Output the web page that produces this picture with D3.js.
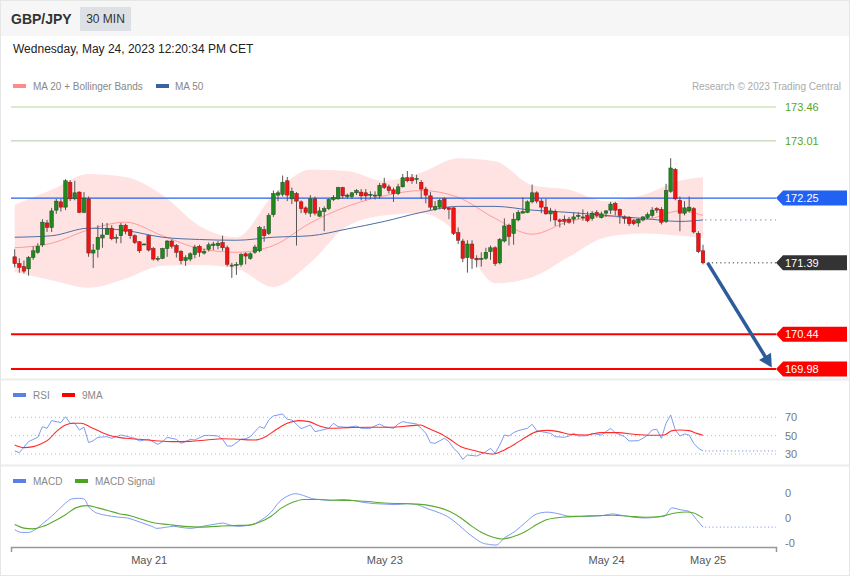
<!DOCTYPE html>
<html><head><meta charset="utf-8">
<script src="https://cdn.jsdelivr.net/npm/d3@7"></script>
<style>body{margin:0;background:#fff}svg{display:block;font-family:"Liberation Sans",Arial,sans-serif}</style>
</head><body><svg id="c" width="850" height="576"></svg>
<script>
// ---- candle data (30 min, GBP/JPY) ----
const open=[171.47,171.38,171.34,171.31,171.46,171.53,171.63,171.92,171.86,172.09,172.20,172.13,172.46,172.24,172.33,172.06,172.24,171.52,171.57,171.72,171.77,171.85,171.72,171.75,171.89,171.83,171.75,171.67,171.64,171.75,171.58,171.44,171.45,171.58,171.68,171.62,171.54,171.42,171.44,171.50,171.61,171.52,171.57,171.62,171.62,171.66,171.59,171.36,171.36,171.37,171.51,171.45,171.53,171.55,171.83,171.78,172.03,172.29,172.30,172.48,172.24,172.31,172.20,172.12,172.05,172.24,172.01,172.07,172.11,172.23,172.24,172.39,172.27,172.27,172.32,172.33,172.32,172.29,172.29,172.28,172.44,172.40,172.36,172.31,172.40,172.52,172.52,172.50,172.46,172.37,172.28,172.10,172.13,172.24,172.12,172.12,171.79,171.68,171.46,171.64,171.45,171.44,171.45,171.54,171.59,171.39,171.68,171.89,171.78,171.96,172.05,172.06,172.20,172.32,172.21,172.13,172.04,172.07,171.96,171.97,171.97,171.97,172.01,171.99,172.02,171.98,172.06,171.99,172.05,172.09,172.18,172.10,172.00,171.99,171.95,171.92,171.96,171.99,172.02,172.11,172.10,171.94,172.34,172.63,172.22,172.05,172.08,172.11,171.78,171.55];
const high=[171.57,171.45,171.42,171.48,171.61,171.65,171.97,171.96,172.12,172.24,172.24,172.50,172.49,172.48,172.34,172.33,172.27,171.64,171.89,171.92,171.92,171.89,171.77,171.92,171.91,171.84,171.77,171.68,171.65,171.76,171.60,171.48,171.59,171.69,171.70,171.64,171.56,171.49,171.53,171.63,171.63,171.58,171.66,171.67,171.68,171.75,171.62,171.39,171.40,171.52,171.53,171.53,171.63,171.88,171.88,172.05,172.35,172.35,172.55,172.53,172.39,172.33,172.22,172.14,172.29,172.27,172.13,172.14,172.25,172.29,172.40,172.40,172.31,172.33,172.37,172.37,172.37,172.34,172.34,172.45,172.52,172.43,172.39,172.44,172.57,172.61,172.57,172.56,172.49,172.40,172.33,172.21,172.24,172.26,172.13,172.13,171.86,171.71,171.69,171.69,171.49,171.53,171.59,171.62,171.61,171.72,171.98,171.91,172.05,172.09,172.26,172.22,172.43,172.34,172.24,172.24,172.12,172.10,171.98,172.02,172.00,172.06,172.06,172.10,172.07,172.08,172.09,172.07,172.09,172.20,172.20,172.11,172.02,172.01,171.97,171.98,172.01,172.06,172.13,172.13,172.13,172.44,172.78,172.65,172.27,172.21,172.27,172.13,171.81,171.63];
const low=[171.33,171.26,171.25,171.22,171.43,171.51,171.60,171.80,171.80,172.04,172.07,172.09,172.21,172.22,172.05,172.05,171.47,171.32,171.46,171.59,171.76,171.69,171.65,171.65,171.77,171.71,171.64,171.52,171.63,171.54,171.42,171.41,171.44,171.47,171.58,171.46,171.37,171.35,171.41,171.45,171.47,171.50,171.54,171.56,171.57,171.55,171.34,171.19,171.23,171.34,171.37,171.43,171.51,171.53,171.67,171.76,172.00,172.21,172.27,172.21,172.17,171.62,172.05,172.03,172.00,172.02,172.00,171.81,172.09,172.21,172.23,172.24,172.24,172.24,172.29,172.22,172.22,172.24,172.23,172.24,172.37,172.31,172.20,172.29,172.39,172.46,172.44,172.44,172.24,172.18,172.09,172.08,172.10,172.09,171.97,171.76,171.64,171.40,171.26,171.31,171.33,171.34,171.43,171.43,171.35,171.37,171.66,171.62,171.63,171.94,172.05,172.05,172.18,172.18,172.05,172.03,171.94,171.88,171.86,171.89,171.91,171.91,171.97,171.95,171.93,171.95,171.99,171.98,172.00,172.04,172.02,171.91,171.91,171.88,171.89,171.87,171.94,171.97,171.99,172.05,171.90,171.92,172.32,172.22,171.81,172.02,172.06,171.78,171.52,171.37];
const close=[171.38,171.33,171.28,171.46,171.55,171.61,171.93,171.86,172.08,172.21,172.13,172.48,172.24,172.32,172.06,172.25,171.52,171.56,171.73,171.76,171.85,171.71,171.73,171.89,171.81,171.75,171.66,171.55,171.64,171.56,171.44,171.45,171.58,171.68,171.61,171.53,171.42,171.46,171.51,171.60,171.53,171.54,171.63,171.64,171.65,171.59,171.37,171.36,171.37,171.50,171.48,171.51,171.60,171.86,171.75,172.02,172.31,172.32,172.46,172.29,172.34,172.21,172.11,172.06,172.24,172.05,172.08,172.11,172.23,172.26,172.39,172.28,172.29,172.32,172.35,172.28,172.28,172.30,172.29,172.42,172.39,172.35,172.31,172.40,172.52,172.48,172.48,172.51,172.37,172.29,172.13,172.14,172.22,172.11,172.10,171.78,171.69,171.45,171.64,171.45,171.43,171.45,171.53,171.59,171.38,171.70,171.88,171.74,171.97,172.06,172.07,172.20,172.32,172.21,172.13,172.04,172.08,171.96,171.94,171.94,171.93,172.00,172.02,172.00,171.95,172.05,172.02,172.04,172.08,172.17,172.09,172.02,171.98,171.91,171.91,171.97,172.00,172.03,172.09,172.09,171.93,172.35,172.65,172.24,172.05,172.12,172.13,171.80,171.54,171.39];

// ---- moving averages / bollinger (sampled at candle indices) ----
const bandIdx=[0,8,16,24,32,40,48,56,64,72,80,88,96,104,112,120,128,136,144,149];
const ma20=[171.59,171.65,171.83,171.93,171.75,171.58,171.53,171.62,171.92,172.14,172.28,172.35,172.26,171.98,171.77,171.94,172.01,171.96,172.08,172.02];
const ma50=[171.73,171.75,171.85,171.82,171.73,171.70,171.69,171.73,171.75,171.84,171.94,172.06,172.14,172.14,172.09,172.06,172.02,171.98,171.94,171.96];
const bbUpper=[172.16,172.36,172.57,172.53,172.29,171.88,171.73,172.29,172.63,172.61,172.48,172.59,172.78,172.74,172.42,172.36,172.21,172.29,172.48,172.53];
const bbLower=[171.27,171.16,171.06,171.18,171.35,171.36,171.31,171.07,171.39,171.88,172.02,172.05,171.77,171.12,171.20,171.47,171.73,171.78,171.75,171.72];

// ---- RSI + 9MA ----
const rsiIdx=[0,1,3,5,6,7,8,10,11,12,13,14,15,16,17,18,20,21,23,24,26,27,29,31,32,33,35,36,37,38,39,41,42,44,45,46,47,49,50,51,53,54,55,56,58,59,60,61,62,64,65,66,68,69,70,72,74,75,77,78,79,80,82,83,84,85,87,88,89,90,91,93,94,95,96,97,98,100,101,102,103,104,105,106,107,108,109,111,112,113,114,116,117,119,120,121,122,124,125,127,128,129,130,132,133,135,136,137,138,139,140,141,142,143,144,145,146,147,148,149];
const rsiVal=[33.3,31.5,43.5,48.2,59.8,58,66.4,64.2,70.7,63.5,63.5,56.2,59.1,42.4,44.5,48.2,48.9,47.1,50.7,49.6,47.1,44.2,46,40.5,43.5,48.2,46,41.6,43.5,46,45.3,50,50.4,49.6,46,38.7,38.7,46,46.7,48.9,59.8,58,67.1,71.5,73.6,67.8,67.1,62.4,57.6,61.6,54.4,55.5,58,63.5,59.8,59.1,60.5,58,58,60.5,62.7,59.8,58,62.7,65.3,64.2,62.7,58,52.5,42.4,41.6,47.1,43.5,36.2,31.5,24.2,28.9,27.8,30,32.5,36.2,30.7,39.8,50.7,49.6,53.3,55.5,58,62.4,55.5,54.4,52.5,48.9,48.2,49.6,52.5,49.6,50,52.5,50.7,54.4,58,53.3,48.9,44.2,44.5,47.1,50.7,56.2,56.9,47.1,63.5,72.5,56.2,49.6,51.8,50.7,41.6,36.2,33.3];
const rsiMaIdx=[0,2,4,5.6,7.4,9,11,12.6,14.4,16.2,18.5,21,24,27,31,34,38,41.5,45,48.5,52,54.3,56.7,59,61.4,63.7,66,68.4,72,76.6,81.3,86,87.8,89.5,92,94.2,96.6,99,101.3,103.6,106,108.3,110.6,113,115.3,117.7,120,123.6,127,130.6,134,137.6,140.6,142.3,144,146,147.6,149];
const rsiMaVal=[39.8,36.9,38,40.9,46,54.4,61.6,63.5,63.5,59.8,54.4,49.6,47.1,46,44.2,43.5,43.8,45.3,46.7,46,45.3,48.9,56.9,63.5,66.4,65.3,60.5,58,58.7,59.1,59.1,60.9,61.6,58,52.5,46,38,34.4,31.5,30,34.4,40.9,48.2,54.4,55.8,54.4,51.5,50.7,53.3,53.3,51.5,50.4,50.7,55.5,56.2,55.5,52.5,50.4];
const rsiTicks=[70,50,30];

// ---- MACD + signal ----
const macdIdx=[0,1.5,3,4.4,6.2,8,9.5,11,12.3,13.8,15,16.2,17.3,19.1,21,22.6,24.4,26,28,29.7,30.8,32.6,34.4,36,38,39.6,41.4,43.2,45,46.7,48.4,50.2,52,53.7,55.5,57.2,59,60.8,62.5,64.3,66,68.4,70.7,73,75.4,77.8,80,82.5,85,87,89.5,92,94.2,96,97.7,99.5,101.3,103,104.2,106,108.3,110.6,113,115.3,117.7,120,122.4,124.7,127,129.4,131.8,134,136.5,138.8,140.6,142.3,144,146,147.6,149];
const macdVal=[-0.046,-0.057,-0.057,-0.046,-0.020,0.007,0.033,0.059,0.075,0.078,0.075,0.040,0.024,0.013,0.007,0.003,0,-0.009,-0.022,-0.033,-0.041,-0.037,-0.033,-0.037,-0.041,-0.037,-0.030,-0.025,-0.020,-0.028,-0.033,-0.030,-0.022,-0.004,0.023,0.062,0.086,0.096,0.089,0.077,0.073,0.069,0.073,0.070,0.062,0.057,0.055,0.053,0.057,0.053,0.036,0.020,0,-0.026,-0.053,-0.079,-0.099,-0.105,-0.107,-0.079,-0.053,-0.017,0.016,0.023,0.017,0.007,0.006,0.007,0.009,0.016,0.009,0.003,0,0.003,0.007,0.040,0.033,0.026,-0.006,-0.036];
const sigIdx=[0,2,3.8,6.2,8.5,11,13.2,15.6,18,20.3,22.6,25,27.3,30.3,33.2,36.7,40.2,43.7,47.3,50.8,53,55.5,57.8,60.2,62.5,66,69.6,73,76.6,80,83.7,87.2,90.7,94.2,96.6,99,101.3,103.6,105.4,107.7,110.6,113,115.3,119,122.4,126,129.4,133,136.5,140,143,145.3,147,149];
const sigVal=[-0.026,-0.040,-0.043,-0.033,-0.013,0.013,0.040,0.049,0.040,0.029,0.017,0.009,-0.004,-0.020,-0.026,-0.033,-0.036,-0.033,-0.030,-0.028,-0.017,0.007,0.040,0.062,0.073,0.073,0.070,0.069,0.065,0.059,0.057,0.055,0.046,0.026,0,-0.033,-0.059,-0.076,-0.083,-0.075,-0.053,-0.026,-0.006,0.004,0.007,0.009,0.011,0.007,0.003,0.007,0.020,0.024,0.020,0];
const macdTicks=[0.1,0,-0.1];
const macdTickLabels=["0","0","-0"];

// ---- x axis ticks, levels, projection ----
const xTickIdx=[29,80,128,150];
const xTickLabels=["May 21","May 23","May 24","May 25"];
const resistLevels=[173.46,173.01];
const pivotLevel=172.25;
const lastPrice=171.39;
const supportLevels=[170.44,169.98];
const arrowFrom=[150,171.39];
const arrowTo=[163.9,170.0];

// ================= drawing =================
const svg=d3.select("#c");
const W=850,H=576;
svg.append("rect").attr("x",0.5).attr("y",0.5).attr("width",W-1).attr("height",H-1).attr("fill","#fff").attr("stroke","#e6e6e6");
svg.append("rect").attr("x",1).attr("y",1).attr("width",W-2).attr("height",35).attr("fill","#f6f6f6");
svg.append("text").attr("x",11).attr("y",24).attr("font-size",14).attr("font-weight","bold").attr("fill","#333").text("GBP/JPY");
svg.append("rect").attr("x",80).attr("y",7).attr("width",51).attr("height",24).attr("fill","#dde1e6");
svg.append("text").attr("x",105.5).attr("y",23).attr("text-anchor","middle").attr("font-size",12).attr("fill","#333").text("30 MIN");
svg.append("text").attr("x",13).attr("y",53).attr("font-size",12).attr("fill","#222").text("Wednesday, May 24, 2023 12:20:34 PM CET");

// panel separators
[378.5,464.5].forEach(v=>svg.append("rect").attr("x",1).attr("y",v).attr("width",W-2).attr("height",2).attr("fill","#ececec"));

function legend(items,yy){
  items.forEach(it=>{
    svg.append("rect").attr("x",it[0]).attr("y",yy-2).attr("width",13).attr("height",4).attr("fill",it[2]);
    svg.append("text").attr("x",it[1]).attr("y",yy+3.5).attr("font-size",10).attr("fill","#888").text(it[3]);
  });
}
legend([[13,33,"#ff8a8a","MA 20 + Bollinger Bands"],[156,175,"#3a62a0","MA 50"]],86);
svg.append("text").attr("x",841).attr("y",89.5).attr("text-anchor","end").attr("font-size",10).attr("fill","#aaa").text("Research © 2023 Trading Central");

const x=d3.scaleLinear().domain([-0.8,164.8]).range([11,776]);
const y=d3.scaleLinear().domain([169.98,173.46]).range([369,107]);
const X0=x.range()[0],X1=x.range()[1];

// bollinger band
const band=bandIdx.map((d,i)=>({i:d,u:bbUpper[i],l:bbLower[i],m20:ma20[i],m50:ma50[i]}));
svg.append("path").datum(band).attr("fill","#ffe3e3")
  .attr("d",d3.area().x(d=>x(d.i)).y0(d=>y(d.l)).y1(d=>y(d.u)).curve(d3.curveMonotoneX));
svg.append("path").datum(band).attr("fill","none").attr("stroke","#ff9a9a").attr("stroke-width",1)
  .attr("d",d3.line().x(d=>x(d.i)).y(d=>y(d.m20)).curve(d3.curveMonotoneX));
svg.append("path").datum(band).attr("fill","none").attr("stroke","#4d6fa6").attr("stroke-width",1)
  .attr("d",d3.line().x(d=>x(d.i)).y(d=>y(d.m50)).curve(d3.curveMonotoneX));
svg.append("line").attr("x1",x(bandIdx[bandIdx.length-1])+2).attr("x2",X1).attr("y1",y(ma50[ma50.length-1])).attr("y2",y(ma50[ma50.length-1]))
  .attr("stroke","#7b93bb").attr("stroke-dasharray","1.5,3.5");

// levels
resistLevels.forEach((v,i)=>{
  svg.append("line").attr("x1",X0).attr("x2",X1).attr("y1",y(v)).attr("y2",y(v)).attr("stroke",i?"#b3c9a3":"#b2d898").attr("stroke-width",1);
  svg.append("text").attr("x",785).attr("y",y(v)+4).attr("font-size",11).attr("fill","#5aa51e").text(v.toFixed(2));
});
svg.append("line").attr("x1",X0).attr("x2",X1).attr("y1",y(pivotLevel)).attr("y2",y(pivotLevel)).attr("stroke","#2462ee").attr("stroke-width",1.2);
supportLevels.forEach(v=>{
  svg.append("line").attr("x1",X0).attr("x2",X1).attr("y1",y(v)).attr("y2",y(v)).attr("stroke","#ff0000").attr("stroke-width",2);
});
svg.append("line").attr("x1",x(arrowFrom[0])).attr("x2",X1).attr("y1",y(lastPrice)).attr("y2",y(lastPrice))
  .attr("stroke","#333").attr("stroke-dasharray","1.2,3");

function tag(v,color){
  const yy=y(v);
  svg.append("path").attr("d",`M776,${yy} L783,${yy-7.5} L847,${yy-7.5} L847,${yy+7.5} L783,${yy+7.5} Z`).attr("fill",color);
  svg.append("text").attr("x",785).attr("y",yy+4).attr("font-size",11).attr("fill","#fff").text(v.toFixed(2));
}
tag(pivotLevel,"#2262f2");
tag(lastPrice,"#333333");
supportLevels.forEach(v=>tag(v,"#ff0000"));

// candles
const candles=open.map((o,i)=>({i,o,h:high[i],l:low[i],c:close[i]}));
const cg=svg.append("g");
cg.selectAll("line").data(candles).join("line")
  .attr("x1",d=>x(d.i)).attr("x2",d=>x(d.i)).attr("y1",d=>y(d.h)).attr("y2",d=>y(d.l))
  .attr("stroke","#555").attr("stroke-width",1);
cg.selectAll("rect").data(candles).join("rect")
  .attr("x",d=>x(d.i)-1.8).attr("width",3.6)
  .attr("y",d=>y(Math.max(d.o,d.c)))
  .attr("height",d=>Math.max(1,Math.abs(y(d.o)-y(d.c))))
  .attr("fill",d=>d.c>=d.o?"#21871f":"#f01414")
  .attr("stroke",d=>d.c>=d.o?"#1a4d1a":"#7a1a1a").attr("stroke-width",0.5);

// projection arrow
{
  const ax=x(arrowFrom[0]),ay=y(arrowFrom[1]),bx=x(arrowTo[0]),by=y(arrowTo[1]);
  const len=Math.hypot(bx-ax,by-ay),ux=(bx-ax)/len,uy=(by-ay)/len;
  const hl=13,hw=7;
  const cx=bx-ux*hl,cy=by-uy*hl;
  svg.append("line").attr("x1",ax).attr("y1",ay).attr("x2",cx+ux*2).attr("y2",cy+uy*2)
    .attr("stroke","#2d5c9a").attr("stroke-width",3.5);
  svg.append("path").attr("fill","#2d5c9a")
    .attr("d",`M${bx},${by} L${cx-uy*hw},${cy+ux*hw} L${cx+uy*hw},${cy-ux*hw} Z`);
}

// ---- RSI panel ----
legend([[13,33,"#5b7fe6","RSI"],[62,82,"#ff0000","9MA"]],395);
const yr=d3.scaleLinear().domain([30,70]).range([454,417.3]);
rsiTicks.forEach(t=>svg.append("line").attr("x1",X0).attr("x2",X1).attr("y1",yr(t)).attr("y2",yr(t))
  .attr("stroke","#bbb").attr("stroke-dasharray","1,3"));
const ra=svg.append("g").attr("transform","translate(785,0)")
  .call(d3.axisRight(yr).tickValues(rsiTicks).tickSize(0).tickPadding(0));
ra.select(".domain").remove();
ra.selectAll("text").attr("font-size",11).attr("fill","#777").attr("font-family","Liberation Sans, Arial, sans-serif");
svg.append("path").datum(rsiIdx.map((d,i)=>[d,rsiVal[i]])).attr("fill","none").attr("stroke","#6f8ff0").attr("stroke-width",0.9)
  .attr("d",d3.line().x(d=>x(d[0])).y(d=>yr(d[1])));
svg.append("path").datum(rsiMaIdx.map((d,i)=>[d,rsiMaVal[i]])).attr("fill","none").attr("stroke","#ff2a2a").attr("stroke-width",1.1)
  .attr("d",d3.line().x(d=>x(d[0])).y(d=>yr(d[1])).curve(d3.curveMonotoneX));
svg.append("line").attr("x1",x(rsiIdx[rsiIdx.length-1])+2).attr("x2",X1).attr("y1",yr(rsiVal[rsiVal.length-1])).attr("y2",yr(rsiVal[rsiVal.length-1]))
  .attr("stroke","#6f8ff0").attr("stroke-dasharray","1.2,2.5");

// ---- MACD panel ----
legend([[13,33,"#5b7fe6","MACD"],[75,95,"#4ca321","MACD Signal"]],481);
const ym=d3.scaleLinear().domain([-0.1,0.1]).range([543.3,492.7]);
const ma=svg.append("g").attr("transform","translate(785,0)")
  .call(d3.axisRight(ym).tickValues(macdTicks).tickFormat((d,i)=>macdTickLabels[i]).tickSize(0).tickPadding(0));
ma.select(".domain").remove();
ma.selectAll("text").attr("font-size",11).attr("fill","#777").attr("font-family","Liberation Sans, Arial, sans-serif");
svg.append("path").datum(macdIdx.map((d,i)=>[d,macdVal[i]])).attr("fill","none").attr("stroke","#7f9cf0").attr("stroke-width",1)
  .attr("d",d3.line().x(d=>x(d[0])).y(d=>ym(d[1])).curve(d3.curveMonotoneX));
svg.append("path").datum(sigIdx.map((d,i)=>[d,sigVal[i]])).attr("fill","none").attr("stroke","#5aaa2e").attr("stroke-width",1.1)
  .attr("d",d3.line().x(d=>x(d[0])).y(d=>ym(d[1])).curve(d3.curveMonotoneX));
svg.append("line").attr("x1",x(macdIdx[macdIdx.length-1])+2).attr("x2",X1).attr("y1",ym(macdVal[macdVal.length-1])).attr("y2",ym(macdVal[macdVal.length-1]))
  .attr("stroke","#7f9cf0").attr("stroke-dasharray","1.2,2.5");

// x axis
const xa=svg.append("g").attr("transform","translate(0,547)")
  .call(d3.axisBottom(x).tickValues(xTickIdx).tickFormat((d,i)=>xTickLabels[i]).tickSizeInner(0).tickSizeOuter(5).tickPadding(9));
xa.select(".domain").attr("stroke","#999").attr("stroke-width",1.5);
xa.selectAll("text").attr("font-size",11).attr("fill","#555").attr("font-family","Liberation Sans, Arial, sans-serif");
</script></body></html>
